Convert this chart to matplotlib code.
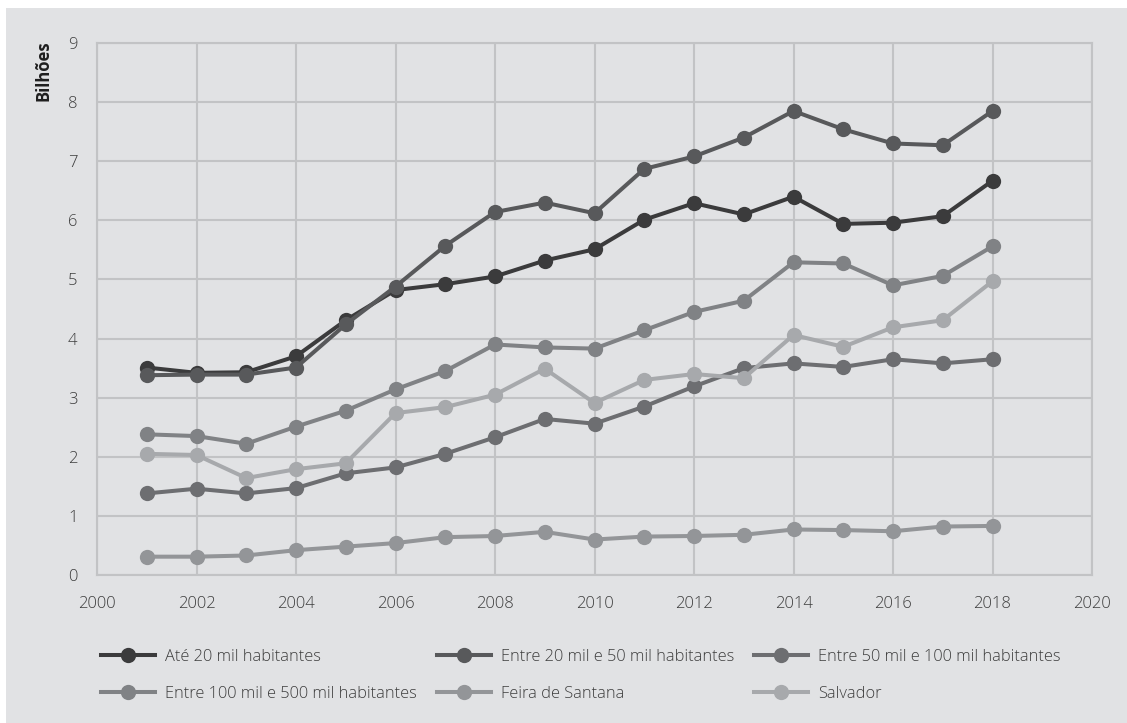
import matplotlib
matplotlib.use("Agg")
import matplotlib.pyplot as plt
from matplotlib.patches import Rectangle

plt.rcParams['font.family'] = ['Open Sans', 'DejaVu Sans']

years = list(range(2001, 2019))

ate_20 = [3.51, 3.42, 3.43, 3.70, 4.31, 4.82, 4.92, 5.05, 5.32, 5.51, 6.01, 6.29, 6.10, 6.40, 5.94, 5.96, 6.07, 6.67]
entre_20_50 = [3.38, 3.39, 3.39, 3.51, 4.24, 4.88, 5.57, 6.14, 6.30, 6.12, 6.87, 7.08, 7.40, 7.85, 7.54, 7.30, 7.27, 7.85]
entre_50_100 = [1.38, 1.46, 1.38, 1.47, 1.72, 1.82, 2.05, 2.33, 2.64, 2.56, 2.85, 3.19, 3.50, 3.58, 3.52, 3.65, 3.58, 3.65]
entre_100_500 = [2.38, 2.35, 2.22, 2.51, 2.78, 3.14, 3.45, 3.90, 3.85, 3.83, 4.14, 4.45, 4.64, 5.29, 5.27, 4.90, 5.06, 5.56]
feira_de_santana = [0.31, 0.31, 0.33, 0.42, 0.48, 0.54, 0.64, 0.66, 0.73, 0.60, 0.65, 0.66, 0.68, 0.77, 0.76, 0.74, 0.82, 0.83]
salvador = [2.05, 2.03, 1.64, 1.79, 1.89, 2.74, 2.84, 3.05, 3.49, 2.91, 3.30, 3.40, 3.33, 4.06, 3.86, 4.19, 4.31, 4.97]

series = [
    ("Até 20 mil habitantes", ate_20, "#3b3b3c"),
    ("Entre 20 mil e 50 mil habitantes", entre_20_50, "#58595b"),
    ("Entre 50 mil e 100 mil habitantes", entre_50_100, "#6d6e71"),
    ("Entre 100 mil e 500 mil habitantes", entre_100_500, "#808285"),
    ("Feira de Santana", feira_de_santana, "#939598"),
    ("Salvador", salvador, "#a7a9ac"),
]

x_ticks = [2000, 2002, 2004, 2006, 2008, 2010, 2012, 2014, 2016, 2018, 2020]
y_ticks = list(range(0, 10))

W, H = 1127, 723
fig = plt.figure(figsize=(W / 100, H / 100), dpi=100)
fig.patch.set_facecolor("white")
panel = "#e1e2e4"
fig.add_artist(Rectangle((6 / W, 0), 1, 1 - 8 / H, transform=fig.transFigure,
                         facecolor=panel, edgecolor="none", zorder=0))

ax = fig.add_axes([97 / W, 1 - 575 / H, (1092 - 97) / W, (575 - 43) / H])
ax.set_facecolor("none")

grid_c = "#c2c3c5"
text_c = "#3d3d3d"

handles = []
for label, vals, col in series:
    h, = ax.plot(years, vals, color=col, lw=2.9, marker="o", ms=11,
                 markeredgewidth=0, label=label, solid_joinstyle="round",
                 clip_on=False, zorder=3)
    handles.append(h)

ax.set_xlim(2000, 2020)
ax.set_ylim(0, 9)
ax.set_xticks(x_ticks)
ax.set_yticks(y_ticks)
ax.grid(True, color=grid_c, lw=1.5, zorder=1)
ax.set_axisbelow(True)
for s in ax.spines.values():
    s.set_color(grid_c)
    s.set_linewidth(1.5)
ax.tick_params(length=0, labelsize=12, labelcolor=text_c)
ax.tick_params(axis="x", pad=15)
ax.tick_params(axis="y", pad=14)
for t in ax.get_xticklabels() + ax.get_yticklabels():
    t.set_fontweight("light")

fig.text(43 / W, 1 - 71 / H, "Bilhões", rotation=90, ha="center", va="center",
         fontsize=12, fontweight="bold", color="#1e1e1e")

order = [0, 3, 1, 4, 2, 5]
leg = fig.legend([handles[i] for i in order], [series[i][0] for i in order],
                 ncol=3, loc="upper left", bbox_to_anchor=(101 / W, 1 - 649 / H),
                 frameon=False, fontsize=11.8, handlelength=3.3, handletextpad=0.61,
                 columnspacing=1.22, labelspacing=1.28, borderpad=0, borderaxespad=0)
for t in leg.get_texts():
    t.set_color(text_c)
    t.set_fontweight("light")

fig.savefig("out.png", dpi=100, facecolor=fig.get_facecolor())
